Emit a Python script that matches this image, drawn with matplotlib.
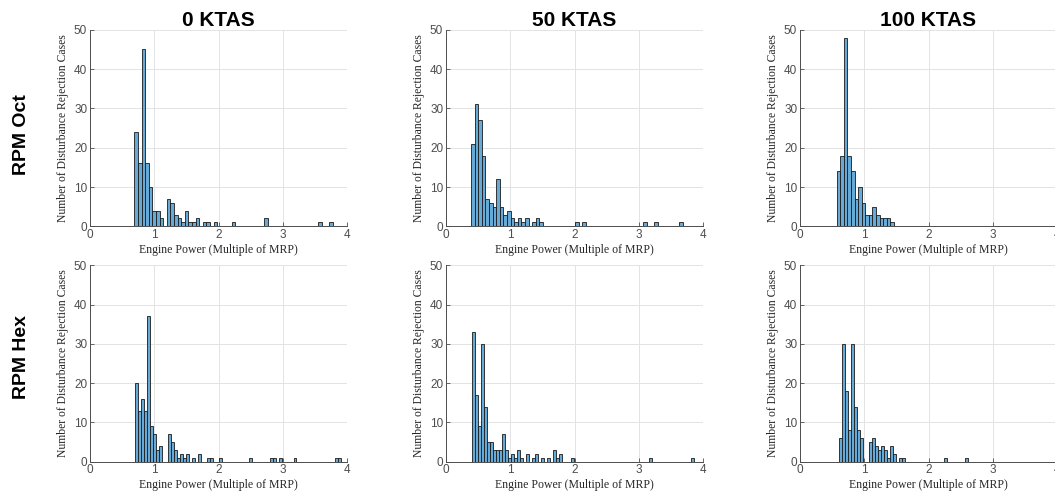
import matplotlib.pyplot as plt
import numpy as np

# == Dados dos histogramas (contagem por bin) ==
# cada painel: inicio do primeiro bin, largura do bin, contagens

colunas = ['0 KTAS', '50 KTAS', '100 KTAS']
linhas = ['RPM Oct', 'RPM Hex']

# RPM Oct
oct_inicio = [0.691, 0.390, 0.570]
oct_largura = [0.0561, 0.0559, 0.0557]
oct_0 = [24, 16, 45, 16, 10, 4, 4, 2, 0, 7,
         6, 3, 2, 1, 4, 1, 1, 2, 0, 1,
         1, 0, 1, 0, 0, 0, 0, 1, 0, 0,
         0, 0, 0, 0, 0, 0, 2, 0, 0, 0,
         0, 0, 0, 0, 0, 0, 0, 0, 0, 0,
         0, 1, 0, 0, 1]
oct_50 = [21, 31, 27, 18, 7, 6, 5, 12, 5, 3,
          4, 2, 1, 2, 1, 2, 0, 1, 2, 1,
          0, 0, 0, 0, 0, 0, 0, 0, 0, 1,
          0, 1, 0, 0, 0, 0, 0, 0, 0, 0,
          0, 0, 0, 0, 0, 0, 0, 0, 1, 0,
          0, 1, 0, 0, 0, 0, 0, 0, 1]
oct_100 = [14, 18, 48, 18, 14, 7, 10, 6, 3, 3, 5, 3, 2, 2, 2, 1]

# RPM Hex
hex_inicio = [0.703, 0.408, 0.600]
hex_largura = [0.0465, 0.0466, 0.0467]
hex_0 = [20, 13, 16, 13, 37, 9, 7, 3, 4, 0,
         0, 7, 5, 3, 1, 2, 1, 2, 0, 1,
         0, 2, 0, 0, 1, 1, 0, 0, 1, 0,
         0, 0, 0, 0, 0, 0, 0, 0, 1, 0,
         0, 0, 0, 0, 0, 1, 1, 0, 1, 0,
         0, 0, 0, 1, 0, 0, 0, 0, 0, 0,
         0, 0, 0, 0, 0, 0, 0, 1, 1]
hex_50 = [33, 17, 9, 30, 14, 5, 5, 3, 3, 3,
          7, 3, 1, 2, 1, 3, 1, 0, 2, 0,
          1, 2, 0, 1, 0, 1, 0, 3, 1, 2,
          0, 0, 0, 1, 0, 0, 0, 0, 0, 0,
          0, 0, 0, 0, 0, 0, 0, 0, 0, 0,
          0, 0, 0, 0, 0, 0, 0, 0, 0, 1,
          0, 0, 0, 0, 0, 0, 0, 0, 0, 0,
          0, 0, 0, 1]
hex_100 = [6, 30, 18, 8, 30, 14, 8, 6, 0, 0,
           5, 6, 4, 3, 4, 3, 1, 4, 2, 0,
           1, 1, 0, 0, 0, 0, 0, 0, 0, 0,
           0, 0, 0, 0, 0, 1, 0, 0, 0, 0,
           0, 0, 1]

dados = [[oct_0, oct_50, oct_100], [hex_0, hex_50, hex_100]]
inicios = [oct_inicio, hex_inicio]
larguras = [oct_largura, hex_largura]

# == Figura ==
W, H = 1055, 497
fig = plt.figure(figsize=(W / 100, H / 100), dpi=100)

cor_barra = (0.4, 0.668, 0.845)
cor_eixo = '#4d4d4d'
serif = ['Liberation Serif', 'DejaVu Serif']
sans = ['Liberation Sans', 'DejaVu Sans']

esquerdas = [90, 446, 800]
baixos = [H - 226.3, H - 461.7]
larg_ax, alt_ax = 257, 196.5

for i in range(2):
    for j in range(3):
        ax = fig.add_axes([esquerdas[j] / W, baixos[i] / H, larg_ax / W, alt_ax / H])
        contagens = np.array(dados[i][j])
        bordas = inicios[i][j] + larguras[i][j] * np.arange(len(contagens))
        ax.bar(bordas, contagens, width=larguras[i][j], align='edge',
               color=cor_barra, edgecolor='#1a1a1a', linewidth=0.6, zorder=3)

        ax.set_xlim(0, 4)
        ax.set_ylim(0, 50)
        ax.set_xticks([0, 1, 2, 3, 4])
        ax.set_yticks([0, 10, 20, 30, 40, 50])
        ax.grid(True, color='#e3e3e3', linewidth=0.7, zorder=0)
        ax.set_axisbelow(True)

        for s in ['top', 'right']:
            ax.spines[s].set_visible(False)
        for s in ['left', 'bottom']:
            ax.spines[s].set_color(cor_eixo)
            ax.spines[s].set_linewidth(0.7)
        ax.tick_params(direction='in', length=3, width=0.6, colors=cor_eixo,
                       labelsize=8.5, pad=2)
        for lab in ax.get_xticklabels() + ax.get_yticklabels():
            lab.set_family(sans)

        ax.set_xlabel('Engine Power (Multiple of MRP)', fontsize=8.5,
                      family=serif, color='#262626', labelpad=2)
        ax.set_ylabel('Number of Disturbance Rejection Cases', fontsize=8.4,
                      family=serif, color='#262626')
        ax.yaxis.set_label_coords(-0.08, 0.5)

        if i == 0:
            ax.set_title(colunas[j], fontsize=15, fontweight='bold',
                         family=sans, pad=3)

# rótulos das linhas
fig.text(22 / W, 1 - 135 / H, linhas[0], rotation=90, fontsize=14,
         fontweight='bold', family=sans, ha='center', va='center')
fig.text(22 / W, 1 - 357 / H, linhas[1], rotation=90, fontsize=14,
         fontweight='bold', family=sans, ha='center', va='center')

fig.savefig('out.png', dpi=100)
